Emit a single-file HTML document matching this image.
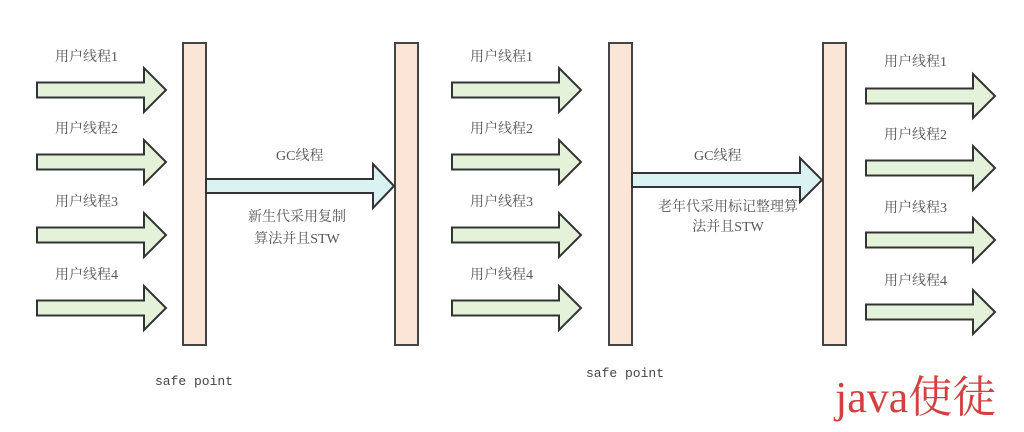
<!DOCTYPE html>
<html><head><meta charset="utf-8"><style>
html,body{margin:0;padding:0;background:#fff;}
svg{display:block}
text{font-family:"Liberation Serif","Noto Serif CJK SC","Noto Sans CJK SC",serif;fill:#555;font-size:14px}
.m{font-family:"Liberation Mono","Noto Sans CJK SC",monospace;font-size:13px;fill:#444}
</style></head><body>
<svg width="1024" height="432" viewBox="0 0 1024 432">
<defs>
<g id="ua"><polygon points="0,-7.5 107,-7.5 107,-22 129,0 107,22 107,7.5 0,7.5" fill="#e3f2d9" stroke="#333" stroke-width="2"/></g>
</defs>
<g fill="#fbe5d6" stroke="#444" stroke-width="2">
<rect x="183" y="43" width="23" height="302"/>
<rect x="395" y="43" width="23" height="302"/>
<rect x="609" y="43" width="23" height="302"/>
<rect x="823" y="43" width="23" height="302"/>
</g>
<use href="#ua" x="37" y="90"/><use href="#ua" x="37" y="162"/><use href="#ua" x="37" y="235"/><use href="#ua" x="37" y="308"/>
<use href="#ua" x="452" y="90"/><use href="#ua" x="452" y="162"/><use href="#ua" x="452" y="235"/><use href="#ua" x="452" y="308"/>
<use href="#ua" x="866" y="96"/><use href="#ua" x="866" y="168"/><use href="#ua" x="866" y="240"/><use href="#ua" x="866" y="312"/>
<g>
<text x="55" y="61">用户线程1</text><text x="55" y="133">用户线程2</text><text x="55" y="206">用户线程3</text><text x="55" y="279">用户线程4</text>
<text x="470" y="61">用户线程1</text><text x="470" y="133">用户线程2</text><text x="470" y="206">用户线程3</text><text x="470" y="279">用户线程4</text>
<text x="884" y="66">用户线程1</text><text x="884" y="139">用户线程2</text><text x="884" y="212">用户线程3</text><text x="884" y="285">用户线程4</text>
</g>
<polygon points="206,179 373,179 373,164 394,186 373,208 373,193 206,193" fill="#daf2f2" stroke="#333" stroke-width="2"/>
<polygon points="632,173 800,173 800,158 822,180 800,202 800,187 632,187" fill="#daf2f2" stroke="#333" stroke-width="2"/>
<text x="276" y="160">GC线程</text>
<text x="297" y="221" text-anchor="middle">新生代采用复制</text>
<text x="297" y="243" text-anchor="middle">算法并且STW</text>
<text x="694" y="160">GC线程</text>
<text x="728" y="211" text-anchor="middle">老年代采用标记整理算</text>
<text x="728" y="231" text-anchor="middle">法并且STW</text>
<text class="m" x="155" y="385">safe point</text>
<text class="m" x="586" y="377">safe point</text>
<text x="835" y="412" style="font-size:44px;fill:#d0413f;font-family:'Liberation Serif','Noto Serif CJK SC',serif">java使徒</text>
</svg>
</body></html>
